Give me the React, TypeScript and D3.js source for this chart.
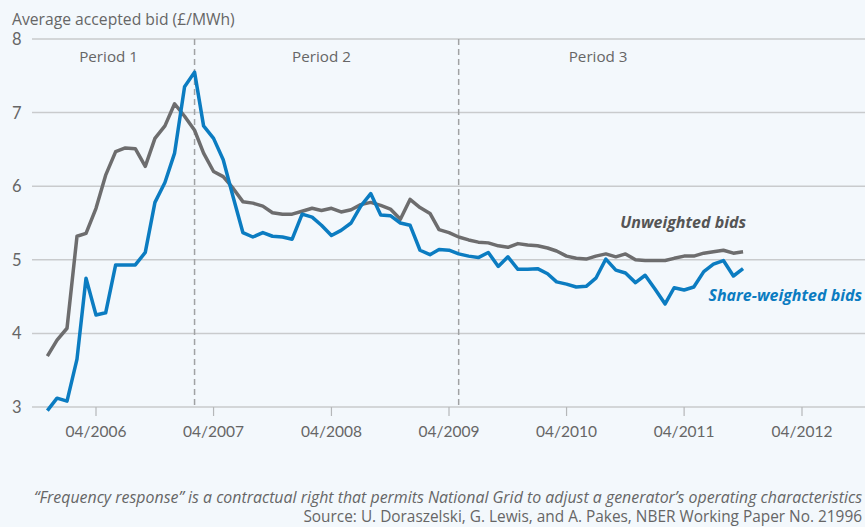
import { useMemo } from "react";
import { scaleLinear, scaleTime, line } from "d3";

// monthly observations, Nov 2005 .. Oct 2011
const startMonth = new Date(2005, 10, 1);
const unweighted = [
  3.69, 3.91, 4.07, 5.32, 5.36, 5.7, 6.15, 6.47, 6.52, 6.51, 6.27, 6.65,
  6.82, 7.12, 6.95, 6.76, 6.45, 6.2, 6.13, 5.97, 5.79, 5.77, 5.73, 5.64,
  5.62, 5.62, 5.66, 5.7, 5.67, 5.7, 5.65, 5.68, 5.75, 5.78, 5.74, 5.69,
  5.55, 5.82, 5.71, 5.63, 5.41, 5.37, 5.31, 5.27, 5.24, 5.23, 5.19, 5.17,
  5.22, 5.2, 5.19, 5.16, 5.12, 5.05, 5.02, 5.01, 5.05, 5.08, 5.04, 5.08,
  5.0, 4.99, 4.99, 4.99, 5.02, 5.05, 5.05, 5.09, 5.11, 5.13, 5.09, 5.11,
];
const shareWeighted = [
  2.95, 3.12, 3.08, 3.65, 4.75, 4.25, 4.28, 4.93, 4.93, 4.93, 5.1, 5.78,
  6.05, 6.45, 7.35, 7.55, 6.82, 6.65, 6.36, 5.85, 5.37, 5.31, 5.37, 5.32,
  5.31, 5.28, 5.62, 5.58, 5.47, 5.33, 5.4, 5.5, 5.73, 5.9, 5.61, 5.6,
  5.5, 5.47, 5.13, 5.07, 5.14, 5.13, 5.08, 5.05, 5.03, 5.1, 4.91, 5.04,
  4.87, 4.87, 4.88, 4.81, 4.7, 4.67, 4.63, 4.64, 4.75, 5.01, 4.86, 4.82,
  4.69, 4.79, 4.6, 4.4, 4.62, 4.59, 4.63, 4.84, 4.94, 4.99, 4.78, 4.88,
];
const yTicks = [3, 4, 5, 6, 7, 8];
const xTickYears = [2006, 2007, 2008, 2009, 2010, 2011, 2012];
const periodBreaks = [new Date(2007, 1, 1), new Date(2009, 4, 1)];
const periods = [
  { label: "Period 1", at: new Date(2006, 4, 10) },
  { label: "Period 2", at: new Date(2008, 2, 1) },
  { label: "Period 3", at: new Date(2010, 6, 8) },
];

const W = 865;
const H = 527;
const font = "'Open Sans', sans-serif";
const numFont = "Lato, sans-serif";

export default function App() {
  const x = scaleTime()
    .domain([new Date(2006, 3, 1), new Date(2012, 3, 1)])
    .range([96, 802]);
  const y = scaleLinear().domain([3, 8]).range([407, 39]);

  const monthOf = (i: number) =>
    new Date(startMonth.getFullYear(), startMonth.getMonth() + i, 1);

  const path = useMemo(
    () =>
      line<number>()
        .x((_, i) => x(monthOf(i)))
        .y((d) => y(d)),
    []
  );

  return (
    <svg
      width={W}
      height={H}
      style={{ position: "absolute", left: 0, top: 0, fontFamily: font }}
    >
      <rect width={W} height={H} fill="#f3f8fc" />

      <text x={12} y={25} fontSize={15.7} fill="#666">
        Average accepted bid (£/MWh)
      </text>

      {yTicks.map((t) => (
        <g key={t}>
          <line x1={32} x2={W} y1={y(t)} y2={y(t)} stroke="#c9cbcd" strokeWidth={1.5} />
          <text x={12} y={y(t) + 6} fontSize={16.5} fill="#666" fontFamily={numFont}>
            {t}
          </text>
        </g>
      ))}

      {xTickYears.map((yr) => {
        const px = x(new Date(yr, 3, 1));
        return (
          <g key={yr}>
            <line x1={px} x2={px} y1={y(3)} y2={y(3) + 9} stroke="#b5b7b9" strokeWidth={1.2} />
            <text x={px} y={437} fontSize={15.5} fill="#666" textAnchor="middle" fontFamily={numFont}>
              {`04/${yr}`}
            </text>
          </g>
        );
      })}

      {periodBreaks.map((d, i) => (
        <line
          key={i}
          x1={x(d)}
          x2={x(d)}
          y1={y(8)}
          y2={y(3)}
          stroke="#a0a2a4"
          strokeWidth={1.5}
          strokeDasharray="6,4"
        />
      ))}

      {periods.map((p) => (
        <text key={p.label} x={x(p.at)} y={62} fontSize={15.2} fill="#666" textAnchor="middle">
          {p.label}
        </text>
      ))}

      <path d={path(unweighted) || ""} fill="none" stroke="#6d6d6e" strokeWidth={3.5} strokeLinejoin="round" />
      <path d={path(shareWeighted) || ""} fill="none" stroke="#0b7cc1" strokeWidth={3.5} strokeLinejoin="round" />

      <text x={746} y={228} fontSize={16} fontWeight={700} fontStyle="italic" fill="#555" textAnchor="end">
        Unweighted bids
      </text>
      <text x={862} y={301} fontSize={16} fontWeight={700} fontStyle="italic" fill="#0b7cc1" textAnchor="end">
        Share-weighted bids
      </text>

      <text x={862} y={503} fontSize={15.9} fontStyle="italic" fill="#666" textAnchor="end">
        “Frequency response” is a contractual right that permits National Grid to adjust a generator’s operating characteristics
      </text>
      <text x={862} y={522} fontSize={15.4} fill="#666" textAnchor="end">
        Source: U. Doraszelski, G. Lewis, and A. Pakes, NBER Working Paper No. 21996
      </text>
    </svg>
  );
}
